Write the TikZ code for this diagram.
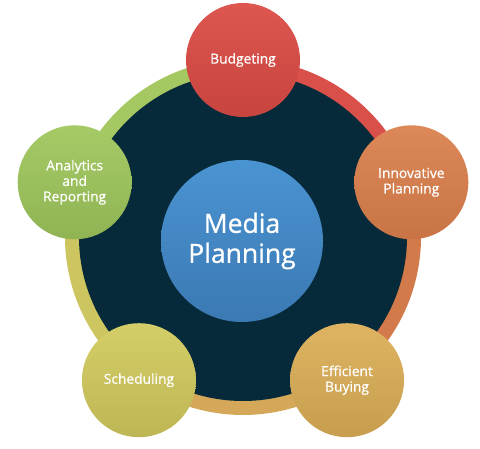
\documentclass[tikz,border=0pt]{standalone}
\usepackage{fontspec}
\setmainfont{Open Sans}
\newfontfamily\lblfont{Open Sans}[FakeBold=0.8]
\definecolor{darkbg}{HTML}{072A3A}
\definecolor{rgreen}{HTML}{A5C862}
\definecolor{rred}{HTML}{D9504B}
\definecolor{rorange}{HTML}{D27A4A}
\definecolor{rgold}{HTML}{D4A858}
\definecolor{ryellow}{HTML}{CCC560}
\definecolor{HubTop}{HTML}{4A94D2}
\definecolor{HubBot}{HTML}{3B79B3}
\tikzset{
  bub/.style={circle, minimum size=114pt, inner sep=0pt, text=white, align=center,
    font=\lblfont\fontsize{13.8pt}{15.5pt}\selectfont},
  hub/.style={circle, minimum size=162pt, inner sep=0pt, text=white, align=center,
    font=\lblfont\fontsize{26.5pt}{30pt}\selectfont, top color=HubTop, bottom color=HubBot},
}
\begin{document}
\begin{tikzpicture}[x=1pt,y=1pt]
\useasboundingbox (0,0) rectangle (480,449);
\coordinate (C) at (243,212);
% ring segments
\fill[rgreen]  (C) -- ++(90:178pt) arc[start angle=90, end angle=162, radius=178pt] -- cycle;
\fill[rred]    (C) -- ++(18:178pt) arc[start angle=18, end angle=90, radius=178pt] -- cycle;
\fill[rorange] (C) -- ++(-54:178pt) arc[start angle=-54, end angle=18, radius=178pt] -- cycle;
\fill[rgold]   (C) -- ++(-126:178pt) arc[start angle=-126, end angle=-54, radius=178pt] -- cycle;
\fill[ryellow] (C) -- ++(162:178pt) arc[start angle=162, end angle=234, radius=178pt] -- cycle;
\fill[darkbg] (C) circle[radius=164pt];
% hub
\node[hub] (media) at (242,208) {Media\\Planning};
% satellites
\node[bub, top color={rgb,255:red,222;green,86;blue,80}, bottom color={rgb,255:red,200;green,68;blue,63}]
  (bud) at ([shift={(90:177pt)}]C) {Budgeting};
\node[bub, top color={rgb,255:red,220;green,136;blue,88}, bottom color={rgb,255:red,201;green,116;blue,68}]
  (inn) at ([shift={(18:177pt)}]C) {Innovative\\Planning};
\node[bub, top color={rgb,255:red,222;green,180;blue,98}, bottom color={rgb,255:red,198;green,158;blue,78}]
  (eff) at ([shift={(-54:177pt)}]C) {Efficient\\Buying};
\node[bub, top color={rgb,255:red,212;green,206;blue,104}, bottom color={rgb,255:red,190;green,182;blue,84}]
  (sch) at ([shift={(-126:177pt)}]C) {Scheduling};
\node[bub, top color={rgb,255:red,165;green,202;blue,102}, bottom color={rgb,255:red,144;green,180;blue,84}]
  (ana) at ([shift={(162:177pt)}]C) {Analytics\\and\\Reporting};
\end{tikzpicture}
\end{document}
